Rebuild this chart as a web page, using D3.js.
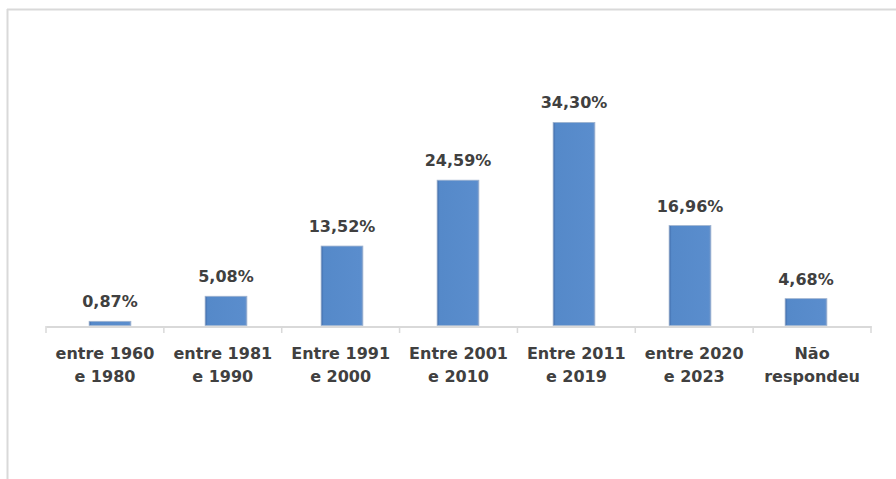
<!DOCTYPE html>
<html><head><meta charset="utf-8">
<script src="https://cdn.jsdelivr.net/npm/d3@7"></script>
<style>html,body{margin:0;padding:0;background:#fff;}svg{display:block;}</style>
</head><body>
<script>
const categories = [
  ["entre 1960","e 1980"],
  ["entre 1981","e 1990"],
  ["Entre 1991","e 2000"],
  ["Entre 2001","e 2010"],
  ["Entre 2011","e 2019"],
  ["entre 2020","e 2023"],
  ["Não","respondeu"]
];
const values = [0.87, 5.08, 13.52, 24.59, 34.30, 16.96, 4.68];
const valueLabels = ["0,87%","5,08%","13,52%","24,59%","34,30%","16,96%","4,68%"];

const W = 896, H = 479;
const svg = d3.select("body").append("svg").attr("width", W).attr("height", H);

// frame
svg.append("line").attr("x1",7).attr("x2",W).attr("y1",9.5).attr("y2",9.5).attr("stroke","#d9d9d9").attr("stroke-width",2);
svg.append("line").attr("x1",7.5).attr("x2",7.5).attr("y1",9).attr("y2",H).attr("stroke","#d9d9d9").attr("stroke-width",2);

const keys = categories.map((c,i)=>i);
const x = d3.scaleBand().domain(keys).range([46, 871]).padding(0);
const xb = d3.scaleBand().domain(keys).range([52, 864]).paddingInner(0.64).paddingOuter(0.32);
const y = d3.scaleLinear().domain([0, 40]).range([326.5, 88.5]);

const defs = svg.append("defs");
const g = defs.append("linearGradient").attr("id","bg").attr("x1","0").attr("x2","1").attr("y1","0").attr("y2","0");
g.append("stop").attr("offset","0").attr("stop-color","#3f6aa8");
g.append("stop").attr("offset","0.06").attr("stop-color","#5589c9");
g.append("stop").attr("offset","0.94").attr("stop-color","#5a8dcd");
g.append("stop").attr("offset","1").attr("stop-color","#6f97cc");

// axis
const axis = d3.axisBottom(x).tickSize(0).tickFormat("");
const ax = svg.append("g").attr("transform","translate(0,326.5)").call(axis);
ax.select(".domain").attr("stroke","#d9d9d9").attr("stroke-width",2);
const tickPos = keys.map(k=>x(k)).concat([x(keys[keys.length-1])+x.bandwidth()]);
svg.append("g").selectAll("line").data(tickPos).join("line")
  .attr("x1",d=>d).attr("x2",d=>d).attr("y1",326).attr("y2",333)
  .attr("stroke","#d9d9d9").attr("stroke-width",1.5);

// bars
svg.append("g").selectAll("rect").data(values).join("rect")
  .attr("x",(d,i)=>xb(i)).attr("width",xb.bandwidth())
  .attr("y",d=>y(d)).attr("height",d=>y(0)-y(d)-1)
  .attr("fill","url(#bg)").attr("stroke","#9fb3cf").attr("stroke-width",0.8);

// value labels
svg.append("g").selectAll("text").data(values).join("text")
  .attr("x",(d,i)=>xb(i)+xb.bandwidth()/2).attr("y",d=>y(d)-14)
  .attr("text-anchor","middle")
  .attr("font-family","'DejaVu Sans', sans-serif").attr("font-weight","bold").attr("font-size","16px")
  .attr("fill","#404040")
  .text((d,i)=>valueLabels[i]);

// category labels
const cl = svg.append("g").selectAll("text").data(categories).join("text")
  .attr("x",(d,i)=>x(i)+x.bandwidth()/2).attr("y",359)
  .attr("text-anchor","middle")
  .attr("font-family","'DejaVu Sans', sans-serif").attr("font-weight","bold").attr("font-size","16px")
  .attr("fill","#404040");
cl.selectAll("tspan").data(d=>d).join("tspan")
  .attr("x",function(){return d3.select(this.parentNode).attr("x");})
  .attr("dy",(d,j)=>j===0?0:23)
  .text(d=>d);
</script>
</body></html>
